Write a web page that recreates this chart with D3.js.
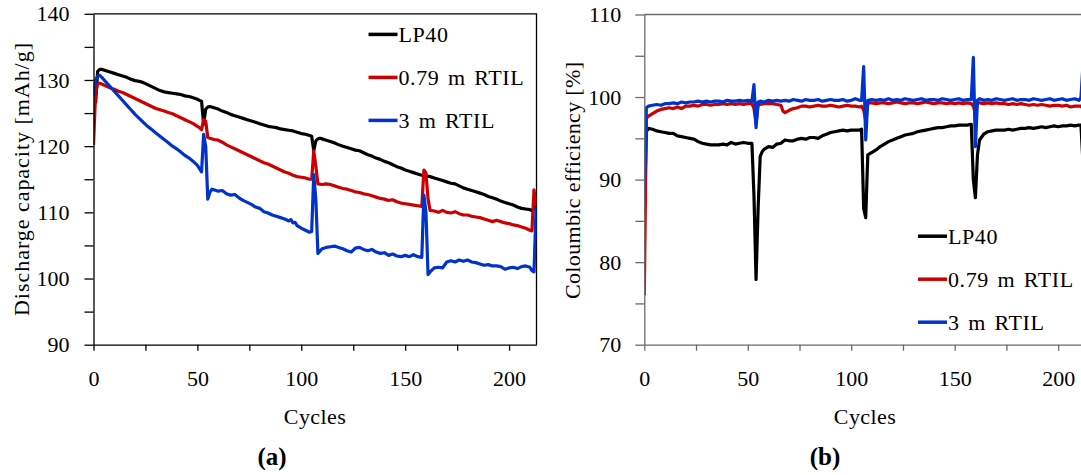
<!DOCTYPE html>
<html>
<head>
<meta charset="utf-8">
<script src="https://cdn.jsdelivr.net/npm/d3@7"></script>
<style>
  body { margin: 0; background: #fff; }
  text { font-family: "Liberation Serif", "DejaVu Serif", serif; }
</style>
</head>
<body>
<script>
// series names + colours (legend order)
const seriesNames = ['LP40', '0.79 m RTIL', '3 m RTIL'];
const seriesColors = ['#000000', '#cc0000', '#0033cc'];

// (a) discharge capacity [mAh/g] vs cycle
const capLP40 = [[1,126.5],[2,131.3],[3,131.6],[4,131.6],[6,131.4],[8,131.2],[10,131.0],[12,130.8],[14,130.6],[16,130.4],[18,130.1],[20,129.9],[22,129.8],[24,129.6],[26,129.3],[28,129.0],[30,128.7],[32,128.4],[34,128.2],[36,128.1],[38,128.0],[40,127.9],[42,127.8],[44,127.6],[46,127.5],[48,127.3],[50,127.1],[51,126.9],[52,126.8],[53,123.3],[54,125.6],[55,125.9],[56,126.0],[58,125.8],[60,125.6],[62,125.3],[64,125.1],[66,124.8],[68,124.6],[70,124.4],[72,124.2],[74,124.0],[76,123.8],[78,123.6],[80,123.4],[82,123.2],[84,123.0],[86,122.9],[88,122.8],[90,122.6],[92,122.5],[94,122.4],[96,122.3],[98,122.1],[100,121.9],[102,121.8],[104,121.6],[105,121.5],[106,119.3],[107,120.8],[108,121.1],[109,121.2],[110,121.1],[112,120.9],[114,120.7],[116,120.5],[118,120.2],[120,120.0],[122,119.8],[124,119.6],[126,119.4],[128,119.3],[130,119.0],[132,118.7],[134,118.5],[136,118.2],[138,118.0],[140,117.7],[142,117.5],[144,117.2],[146,116.9],[148,116.7],[150,116.4],[152,116.2],[154,116.0],[156,115.8],[158,115.6],[160,115.5],[162,115.4],[164,115.2],[166,115.0],[168,114.8],[170,114.6],[172,114.4],[174,114.3],[176,114.0],[178,113.7],[180,113.5],[182,113.3],[184,113.1],[186,112.9],[188,112.7],[190,112.4],[192,112.2],[194,112.0],[196,111.7],[198,111.5],[200,111.3],[202,111.1],[204,110.8],[206,110.6],[208,110.5],[210,110.4],[211,110.3],[212,110.5],[213,111.0]];
const capRTIL079 = [[0,120.2],[1,128.0],[2,129.4],[3,129.5],[4,129.4],[6,129.1],[8,128.8],[10,128.6],[12,128.3],[14,128.1],[16,127.8],[18,127.5],[20,127.2],[22,126.9],[24,126.6],[26,126.3],[28,126.0],[30,125.7],[32,125.5],[34,125.3],[36,125.1],[38,124.9],[40,124.6],[42,124.3],[44,124.0],[46,123.7],[48,123.4],[50,123.0],[51,122.8],[52,122.5],[53,124.0],[54,123.8],[55,121.3],[56,121.2],[58,121.0],[60,120.9],[62,120.6],[64,120.2],[66,119.9],[68,119.6],[70,119.3],[72,119.0],[74,118.7],[76,118.4],[78,118.1],[80,117.8],[82,117.5],[84,117.3],[86,117.0],[88,116.7],[90,116.4],[92,116.1],[94,115.9],[96,115.6],[98,115.4],[100,115.3],[102,115.2],[104,115.0],[105,115.0],[106,119.3],[107,117.0],[108,114.3],[110,114.2],[112,114.3],[114,114.2],[116,114.0],[118,113.8],[120,113.6],[122,113.5],[124,113.3],[126,113.1],[128,113.0],[130,112.8],[132,112.7],[134,112.5],[136,112.3],[138,112.1],[140,112.0],[142,111.8],[144,111.9],[146,111.6],[148,111.4],[150,111.3],[152,111.2],[154,111.1],[156,111.0],[158,110.9],[159,116.4],[160,116.0],[161,112.0],[162,110.3],[164,110.2],[166,110.0],[168,110.3],[170,110.0],[172,109.9],[174,110.1],[176,109.8],[178,109.6],[180,109.6],[182,109.4],[184,109.3],[186,109.2],[188,109.0],[190,108.8],[192,108.6],[194,108.8],[196,108.6],[198,108.4],[200,108.3],[202,108.1],[204,108.0],[206,107.8],[208,107.6],[210,107.3],[211,107.2],[212,113.4],[213,111.0]];
const capRTIL3 = [[0,127.5],[1,130.0],[2,130.6],[3,130.7],[4,130.4],[6,129.7],[8,129.0],[10,128.3],[12,127.6],[14,126.9],[16,126.2],[18,125.5],[20,124.8],[22,124.2],[24,123.6],[26,123.0],[28,122.5],[30,122.0],[32,121.5],[34,121.0],[36,120.5],[38,120.0],[40,119.6],[42,119.1],[44,118.6],[46,118.2],[48,117.7],[50,117.1],[51,116.6],[52,116.1],[53,121.8],[54,120.0],[55,112.0],[56,113.0],[57,113.5],[58,113.4],[60,113.2],[62,113.3],[64,112.8],[66,112.6],[68,112.7],[70,112.2],[72,111.8],[74,111.5],[76,111.2],[78,110.8],[80,110.6],[82,110.1],[84,109.9],[86,109.6],[88,109.4],[90,109.2],[92,109.0],[94,108.7],[95,108.9],[96,108.4],[97,108.5],[98,108.0],[100,107.6],[102,107.3],[104,107.0],[105,107.1],[106,115.7],[107,112.0],[108,103.8],[110,104.5],[112,104.7],[114,104.8],[116,104.9],[118,104.7],[120,104.5],[122,104.2],[124,104.0],[126,104.6],[128,104.7],[130,104.4],[132,104.2],[134,104.4],[136,104.0],[138,103.8],[140,103.9],[142,103.5],[144,103.7],[146,103.4],[148,103.3],[150,103.5],[152,103.3],[154,103.6],[156,103.3],[158,103.2],[159,112.6],[160,110.0],[161,100.6],[162,101.0],[164,101.6],[166,101.7],[168,101.6],[170,102.5],[172,102.7],[174,102.5],[176,102.8],[178,102.6],[180,102.8],[182,102.5],[184,102.4],[186,102.2],[188,102.0],[190,102.1],[192,101.9],[194,101.9],[196,101.8],[198,101.4],[200,101.6],[202,101.7],[204,101.5],[206,101.8],[208,101.9],[210,101.7],[211,101.2],[212,101.0],[213,110.8]];

// (b) coulombic efficiency [%] vs cycle
const ceLP40 = [[0,86.0],[1,95.8],[2,96.2],[4,96.1],[6,95.9],[8,95.8],[10,95.7],[12,95.6],[14,95.6],[16,95.3],[18,95.2],[20,95.1],[22,95.0],[24,94.9],[26,94.6],[28,94.4],[30,94.3],[32,94.2],[34,94.2],[36,94.2],[38,94.3],[40,94.2],[42,94.5],[44,94.3],[46,94.4],[48,94.5],[50,94.4],[52,94.4],[53,88.0],[54,77.9],[55,86.5],[56,92.8],[57,93.4],[58,93.7],[60,94.0],[62,93.9],[64,94.3],[66,94.4],[68,94.8],[70,94.7],[72,94.7],[74,94.9],[76,95.0],[78,94.9],[80,95.1],[82,95.1],[84,95.0],[86,95.3],[88,95.5],[90,95.7],[92,95.8],[94,95.9],[96,96.0],[98,95.9],[100,96.0],[102,96.0],[104,96.0],[105,96.1],[106,86.5],[107,85.4],[108,93.0],[110,93.3],[112,93.6],[114,94.0],[116,94.3],[118,94.6],[120,94.8],[122,95.0],[124,95.2],[126,95.4],[128,95.5],[130,95.6],[132,95.8],[134,95.9],[136,96.0],[138,96.1],[140,96.2],[142,96.3],[144,96.3],[146,96.4],[148,96.5],[150,96.5],[152,96.6],[154,96.6],[156,96.6],[158,96.7],[159,90.0],[160,87.8],[161,93.0],[162,94.8],[164,95.5],[166,95.8],[168,95.9],[170,96.0],[172,96.0],[174,96.0],[176,96.1],[178,96.0],[180,96.1],[182,96.2],[184,96.2],[186,96.3],[188,96.2],[190,96.3],[192,96.4],[194,96.3],[196,96.4],[198,96.5],[200,96.4],[202,96.5],[204,96.5],[206,96.6],[208,96.5],[210,96.6],[211,96.6],[212,92.0],[213,88.0]];
const ceRTIL079 = [[0,76.0],[1,97.4],[2,97.7],[4,98.0],[6,98.3],[8,98.5],[10,98.6],[12,98.7],[14,98.6],[16,98.8],[18,98.6],[20,98.9],[22,98.9],[24,99.0],[26,98.9],[28,99.1],[30,99.1],[32,99.0],[34,99.1],[36,99.1],[38,99.2],[40,99.1],[42,99.2],[44,99.1],[46,99.2],[48,99.1],[50,99.2],[52,99.2],[53,98.6],[54,96.8],[55,99.1],[56,99.1],[58,99.2],[60,99.2],[62,99.2],[64,99.1],[66,99.0],[67,98.3],[68,98.1],[70,98.4],[72,98.6],[74,98.7],[76,98.9],[78,98.9],[80,98.8],[82,98.9],[84,99.0],[86,98.9],[88,98.9],[90,99.0],[92,98.9],[94,98.8],[96,98.9],[98,99.0],[100,98.9],[102,98.9],[104,98.8],[105,98.9],[106,98.4],[107,97.2],[108,99.3],[110,99.3],[112,99.2],[114,99.3],[116,99.3],[118,99.2],[120,99.3],[122,99.4],[124,99.3],[126,99.2],[128,99.3],[130,99.3],[132,99.2],[134,99.3],[136,99.4],[138,99.3],[140,99.2],[142,99.3],[144,99.3],[146,99.2],[148,99.3],[150,99.2],[152,99.3],[154,99.2],[156,99.3],[158,99.2],[159,98.9],[160,98.0],[161,99.3],[162,99.3],[164,99.2],[166,99.3],[168,99.2],[170,99.3],[172,99.2],[174,99.2],[176,99.1],[178,99.2],[180,99.1],[182,99.2],[184,99.1],[186,99.0],[188,99.1],[190,99.0],[192,99.1],[194,99.0],[196,98.9],[198,99.0],[200,99.0],[202,98.9],[204,99.0],[206,98.8],[208,98.9],[210,98.9],[211,98.9],[212,98.6],[213,97.5]];
const ceRTIL3 = [[0,87.5],[1,98.7],[2,98.9],[4,99.0],[6,99.1],[8,99.0],[10,99.2],[12,99.2],[14,99.3],[16,99.2],[18,99.4],[20,99.3],[22,99.4],[24,99.4],[26,99.5],[28,99.4],[30,99.5],[32,99.4],[34,99.5],[36,99.5],[38,99.4],[40,99.6],[42,99.5],[44,99.5],[46,99.6],[48,99.5],[50,99.6],[52,99.5],[53,101.5],[54,96.3],[55,99.4],[56,99.5],[58,99.4],[60,99.6],[62,99.5],[64,99.6],[66,99.5],[68,99.6],[70,99.5],[72,99.7],[74,99.6],[76,99.5],[78,99.7],[80,99.6],[82,99.6],[84,99.7],[86,99.5],[88,99.6],[90,99.7],[92,99.6],[94,99.6],[96,99.7],[98,99.5],[100,99.6],[102,99.8],[104,99.6],[105,99.6],[106,103.7],[107,94.8],[108,99.6],[110,99.7],[112,99.6],[114,99.7],[116,99.6],[118,99.8],[120,99.6],[122,99.7],[124,99.6],[126,99.8],[128,99.7],[130,99.6],[132,99.7],[134,99.8],[136,99.6],[138,99.7],[140,99.7],[142,99.6],[144,99.8],[146,99.7],[148,99.6],[150,99.7],[152,99.8],[154,99.6],[156,99.7],[158,99.7],[159,104.8],[160,94.0],[161,99.6],[162,99.8],[164,99.6],[166,99.7],[168,99.6],[170,99.8],[172,99.7],[174,99.6],[176,99.7],[178,99.8],[180,99.6],[182,99.7],[184,99.7],[186,99.6],[188,99.8],[190,99.7],[192,99.6],[194,99.7],[196,99.8],[198,99.6],[200,99.7],[202,99.8],[204,99.6],[206,99.7],[208,99.8],[210,99.6],[211,99.9],[212,104.0],[213,95.0]];

const xTicks = [0, 25, 50, 75, 100, 125, 150, 175, 200];
const yTicksA = [90, 95, 100, 105, 110, 115, 120, 125, 130, 135, 140];
const yTicksB = [70, 75, 80, 85, 90, 95, 100, 105, 110];

const FONT = 22;

const svg = d3.select('body').append('svg')
    .attr('width', 1081)
    .attr('height', 475);

function drawPanel(p) {
    const x = d3.scaleLinear().domain(p.xDomain).range(p.xRange);
    const y = d3.scaleLinear().domain(p.yDomain).range(p.yRange);
    const g = svg.append('g');

    // clip for data lines
    g.append('clipPath').attr('id', p.id + '-clip')
        .append('rect')
        .attr('x', p.xRange[0]).attr('y', p.yRange[1])
        .attr('width', p.xRange[1] - p.xRange[0])
        .attr('height', p.yRange[0] - p.yRange[1]);

    // frame (top + right)
    g.append('path')
        .attr('d', `M${p.xRange[0]},${p.yRange[1]}H${p.xRange[1]}V${p.yRange[0]}`)
        .attr('fill', 'none')
        .attr('stroke', p.axisColor)
        .attr('stroke-width', 1.3);

    const line = d3.line().x(d => x(d[0])).y(d => y(d[1]));
    const lines = g.append('g').attr('clip-path', `url(#${p.id}-clip)`);
    p.series.forEach((s, i) => {
        lines.append('path')
            .datum(s)
            .attr('d', line)
            .attr('fill', 'none')
            .attr('stroke', seriesColors[i])
            .attr('stroke-width', 3.2)
            .attr('stroke-linejoin', 'round');
    });

    const xAxis = g.append('g')
        .attr('transform', `translate(0,${p.yRange[0]})`)
        .call(d3.axisBottom(x).tickValues(xTicks)
            .tickFormat(d => d % 50 === 0 ? d : '')
            .tickSize(6).tickPadding(20).tickSizeOuter(0));
    const yAxis = g.append('g')
        .attr('transform', `translate(${p.xRange[0]},0)`)
        .call(d3.axisLeft(y).tickValues(p.yTicks)
            .tickFormat(d => d % 10 === 0 ? d : '')
            .tickSize(9).tickPadding(p.yPad).tickSizeOuter(0));
    [xAxis, yAxis].forEach(a => {
        a.select('.domain').attr('stroke', p.axisColor).attr('stroke-width', 1.3);
        a.selectAll('.tick line').attr('stroke', p.axisColor).attr('stroke-width', 1.3);
        a.selectAll('text')
            .attr('font-family', '"Liberation Serif", serif')
            .attr('font-size', FONT)
            .attr('fill', '#000');
    });

    // axis titles
    g.append('text')
        .attr('x', p.xTitleX)
        .attr('y', 424)
        .attr('text-anchor', 'middle')
        .attr('font-size', FONT)
        .attr('letter-spacing', 0.4)
        .text('Cycles');
    g.append('text')
        .attr('transform', `translate(${p.yTitleX},${p.yTitleY}) rotate(-90)`)
        .attr('text-anchor', 'middle')
        .attr('font-size', FONT)
        .attr('textLength', p.yTitleLen)
        .text(p.yTitle);

    // panel letter
    g.append('text')
        .attr('x', p.letterX).attr('y', 465)
        .attr('text-anchor', 'middle')
        .attr('font-size', 25)
        .attr('font-weight', 'bold')
        .text(p.letter);

    // legend
    const leg = g.append('g');
    seriesNames.forEach((name, i) => {
        const ly = p.legendY + i * p.legendStep;
        leg.append('line')
            .attr('x1', p.legendX).attr('x2', p.legendX + 29)
            .attr('y1', ly).attr('y2', ly)
            .attr('stroke', seriesColors[i])
            .attr('stroke-width', 3.5);
        leg.append('text')
            .attr('x', p.legendX + 30).attr('y', ly + 7.5)
            .attr('font-size', FONT)
            .attr('letter-spacing', 0.6)
            .attr('word-spacing', 2.5)
            .text(name);
    });
}

drawPanel({
    id: 'a',
    xDomain: [0, 213.2], xRange: [93.5, 536.5],
    yDomain: [90, 140], yRange: [344.7, 13.8],
    yTicks: yTicksA, yPad: 15,
    axisColor: '#000',
    series: [capLP40, capRTIL079, capRTIL3],
    xTitleX: 315,
    yTitle: 'Discharge capacity [mAh/g]', yTitleX: 29, yTitleY: 179.5, yTitleLen: 273,
    letter: '(a)', letterX: 272,
    legendX: 368.5, legendY: 34.4, legendStep: 43
});

drawPanel({
    id: 'b',
    xDomain: [0, 213.2], xRange: [644.3, 1085.5],
    yDomain: [70, 110], yRange: [344.7, 14.5],
    yTicks: yTicksB, yPad: 14,
    axisColor: '#6a6a6a',
    series: [ceLP40, ceRTIL079, ceRTIL3],
    xTitleX: 865,
    yTitle: 'Coloumbic efficiency [%]', yTitleX: 580, yTitleY: 180.5, yTitleLen: 237,
    letter: '(b)', letterX: 825,
    legendX: 918, legendY: 236.2, legendStep: 43
});
</script>
</body>
</html>
